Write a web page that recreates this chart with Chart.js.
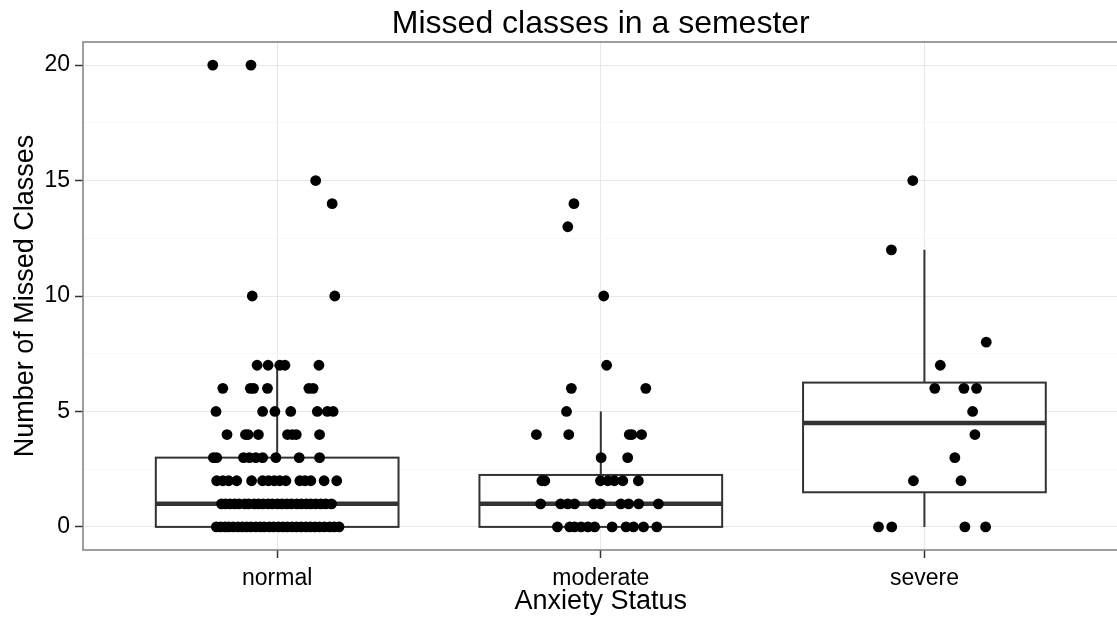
<!DOCTYPE html>
<html>
<head>
<meta charset="utf-8">
<script src="https://cdn.jsdelivr.net/npm/chart.js@4.4.1/dist/chart.umd.min.js"></script>
<style>
html, body { margin: 0; padding: 0; background: #fff; overflow: hidden; }
#myChart { display: block; }
</style>
</head>
<body>
<canvas id="myChart" width="1124" height="618"></canvas>
<script>
const categories = ['normal', 'moderate', 'severe'];
const yTicks = [0, 5, 10, 15, 20];

// box stats
const boxQ1 = [0, 0, 1.5];
const boxMedian = [1, 1, 4.5];
const boxQ3 = [3, 2.25, 6.25];
const whiskerLow = [0, 0, 0];
const whiskerHigh = [7, 5, 12];

// jittered points: y value and horizontal jitter (in category units)
const normalY = [20, 20, 15, 14, 10, 10,
  7, 7, 7, 7, 7,
  6, 6, 6, 6, 6, 6,
  5, 5, 5, 5, 5, 5, 5,
  4, 4, 4, 4, 4, 4, 4, 4,
  3, 3, 3, 3, 3, 3, 3, 3, 3,
  2, 2, 2, 2, 2, 2, 2, 2, 2, 2, 2, 2, 2, 2, 2,
  1, 1, 1, 1, 1, 1, 1, 1, 1, 1, 1, 1, 1, 1, 1, 1, 1, 1, 1, 1, 1, 1, 1, 1,
  0, 0, 0, 0, 0, 0, 0, 0, 0, 0, 0, 0, 0, 0, 0, 0, 0, 0, 0, 0, 0, 0, 0, 0, 0, 0, 0, 0];
const normalJitter = [-0.199, -0.081, 0.119, 0.170, -0.077, 0.178,
  -0.062, -0.028, 0.008, 0.024, 0.129,
  -0.168, -0.083, -0.073, -0.030, 0.098, 0.111,
  -0.189, -0.045, -0.007, 0.042, 0.124, 0.155, 0.173,
  -0.155, -0.098, -0.090, -0.058, 0.032, 0.047, 0.059, 0.131,
  -0.197, -0.187, -0.104, -0.086, -0.066, -0.045, -0.004, 0.068, 0.131,
  -0.187, -0.168, -0.150, -0.125, -0.079, -0.045, -0.027, -0.009, 0.008, 0.027, 0.070, 0.086, 0.104, 0.145, 0.184,
  -0.172, -0.160, -0.146, -0.131, -0.118, -0.100, -0.088, -0.071, -0.058, -0.044, -0.028, -0.015, 0.001, 0.015, 0.030, 0.044, 0.061, 0.075, 0.090, 0.104, 0.119, 0.135, 0.150, 0.168,
  -0.188, -0.175, -0.161, -0.150, -0.136, -0.121, -0.108, -0.094, -0.081, -0.066, -0.052, -0.040, -0.024, -0.011, 0.004, 0.018, 0.031, 0.046, 0.060, 0.074, 0.089, 0.103, 0.117, 0.131, 0.146, 0.162, 0.176, 0.191];

const moderateY = [14, 13, 10, 7, 6, 6, 5,
  4, 4, 4, 4, 4,
  3, 3,
  2, 2, 2, 2, 2, 2, 2,
  1, 1, 1, 1, 1, 1, 1, 1, 1, 1,
  0, 0, 0, 0, 0, 0, 0, 0, 0, 0, 0];
const moderateJitter = [-0.083, -0.102, 0.009, 0.018, -0.091, 0.139, -0.106,
  -0.199, -0.099, 0.088, 0.096, 0.126,
  0.001, 0.083,
  -0.182, -0.173, -0.001, 0.022, 0.042, 0.068, 0.116,
  -0.186, -0.124, -0.102, -0.081, -0.022, -0.001, 0.062, 0.086, 0.117, 0.178,
  -0.134, -0.096, -0.081, -0.061, -0.040, -0.019, 0.035, 0.078, 0.101, 0.132, 0.173];

const severeY = [15, 12, 8, 7, 6, 6, 6, 5, 4, 3, 2, 2, 0, 0, 0, 0];
const severeJitter = [-0.036, -0.102, 0.191, 0.049, 0.032, 0.122, 0.161, 0.149, 0.156, 0.094,
  -0.034, 0.113, -0.142, -0.101, 0.125, 0.189];

function toPoints(ys, jit, pos) {
  return ys.map((v, i) => ({ x: pos + jit[i], y: v }));
}

const fontFamily = "'Liberation Sans', Arial, Helvetica, sans-serif";

// boxes are drawn under the points, panel border on top
const boxPlugin = {
  id: 'boxes',
  beforeDatasetsDraw(chart) {
    const ctx = chart.ctx;
    const xs = chart.scales.x, ys = chart.scales.y;
    ctx.save();
    ctx.strokeStyle = '#333333';
    for (let i = 0; i < categories.length; i++) {
      const c = i + 1;
      const l = xs.getPixelForValue(c - 0.375);
      const r = xs.getPixelForValue(c + 0.375);
      const xm = xs.getPixelForValue(c);
      const yq1 = ys.getPixelForValue(boxQ1[i]);
      const yq3 = ys.getPixelForValue(boxQ3[i]);
      const ymed = ys.getPixelForValue(boxMedian[i]);
      ctx.lineWidth = 2;
      ctx.beginPath();
      ctx.moveTo(xm, ys.getPixelForValue(whiskerHigh[i]));
      ctx.lineTo(xm, yq3);
      ctx.moveTo(xm, yq1);
      ctx.lineTo(xm, ys.getPixelForValue(whiskerLow[i]));
      ctx.stroke();
      ctx.fillStyle = '#ffffff';
      ctx.fillRect(l, yq3, r - l, yq1 - yq3);
      ctx.strokeRect(l, yq3, r - l, yq1 - yq3);
      ctx.lineWidth = 4.5;
      ctx.beginPath();
      ctx.moveTo(l, ymed);
      ctx.lineTo(r, ymed);
      ctx.stroke();
    }
    ctx.restore();
  },
  afterDatasetsDraw(chart) {
    const ctx = chart.ctx;
    const a = chart.chartArea;
    ctx.save();
    ctx.strokeStyle = '#7f7f7f';
    ctx.lineWidth = 1.5;
    ctx.strokeRect(a.left, a.top, a.right - a.left, a.bottom - a.top);
    ctx.restore();
  }
};

const chart = new Chart('myChart', {
  type: 'scatter',
  data: {
    datasets: [
      { data: toPoints(normalY, normalJitter, 1) },
      { data: toPoints(moderateY, moderateJitter, 2) },
      { data: toPoints(severeY, severeJitter, 3) }
    ].map(d => Object.assign(d, {
      backgroundColor: '#000000',
      borderWidth: 0,
      pointRadius: 5.4,
      pointHoverRadius: 5.4
    }))
  },
  options: {
    responsive: false,
    animation: false,
    layout: { padding: 0 },
    plugins: {
      legend: { display: false },
      tooltip: { enabled: false },
      title: {
        display: true,
        fullSize: false,
        text: 'Missed classes in a semester',
        color: '#000000',
        font: { family: fontFamily, size: 32, weight: 'normal', lineHeight: 1.0 },
        padding: { top: 8, bottom: 2 }
      }
    },
    scales: {
      x: {
        type: 'linear',
        min: 0.4,
        max: 3.6,
        afterBuildTicks(scale) {
          scale.ticks = categories.map((c, i) => ({ value: i + 1 }));
        },
        afterFit(scale) { scale.height = 68; },
        border: { display: false },
        grid: {
          color: '#e8e8e8',
          lineWidth: 1,
          tickLength: 8,
          tickColor: '#333333',
          tickWidth: 1.5
        },
        ticks: {
          autoSkip: false,
          maxRotation: 0,
          padding: 7,
          color: '#000000',
          font: { family: fontFamily, size: 23 },
          callback: (v) => categories[Math.round(v) - 1]
        },
        title: {
          display: true,
          text: 'Anxiety Status',
          color: '#000000',
          font: { family: fontFamily, size: 27, lineHeight: 1.2 },
          padding: { top: 0, bottom: 0 }
        }
      },
      y: {
        min: -1,
        max: 21,
        afterBuildTicks(scale) {
          const t = [];
          for (let v = 0; v <= 20; v += 2.5) t.push({ value: v });
          scale.ticks = t;
        },
        afterFit(scale) { scale.width = 83; },
        border: { display: false },
        grid: {
          color: (c) => (yTicks.includes(c.tick.value) ? '#e8e8e8' : '#f7f7f7'),
          lineWidth: 1,
          tickLength: 8,
          tickColor: (c) => (yTicks.includes(c.tick.value) ? '#333333' : 'rgba(0,0,0,0)'),
          tickWidth: 1.5
        },
        ticks: {
          autoSkip: false,
          padding: 5,
          color: '#000000',
          font: { family: fontFamily, size: 23 },
          callback: (v) => (yTicks.includes(v) ? String(v) : '')
        },
        title: {
          display: true,
          text: 'Number of Missed Classes',
          color: '#000000',
          font: { family: fontFamily, size: 27, lineHeight: 1.2 },
          padding: { top: 9, bottom: 0 }
        }
      }
    }
  },
  plugins: [boxPlugin]
});
</script>
</body>
</html>
